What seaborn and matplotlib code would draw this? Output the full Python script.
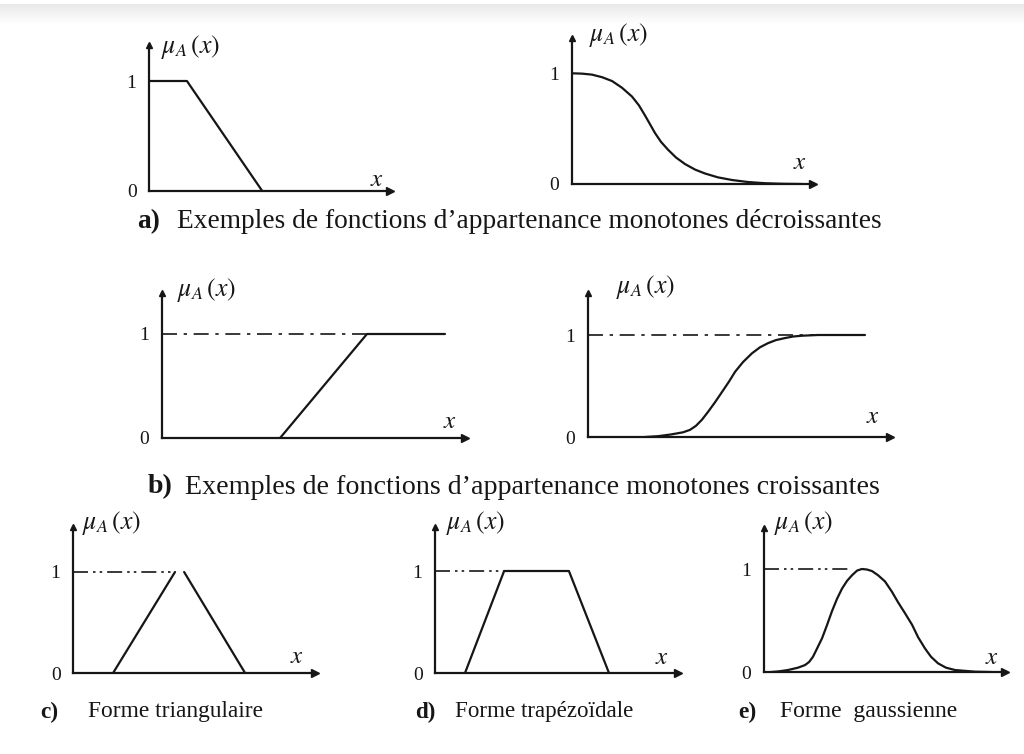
import numpy as np
import pandas as pd
import matplotlib
matplotlib.use("Agg")
import matplotlib.pyplot as plt
import seaborn as sns

sns.set_theme(style="white")
plt.rcParams["font.family"] = ["Liberation Serif", "DejaVu Serif"]
plt.rcParams["mathtext.fontset"] = "stix"

INK = "#161616"

# ---- membership functions (x in arbitrary units, mu in [0, 1]) ----
# a) decreasing: trapezoidal shoulder
a1_x = [0.0, 1.58, 4.71]
a1_mu = [1.0, 1.0, 0.0]

# a) decreasing: smooth (Z-shaped) curve
a2_x = [0.0, 0.42, 0.83, 1.25, 1.67, 2.08, 2.5, 2.79, 3.04, 3.25, 3.46, 3.71,
        4.0, 4.33, 4.71, 5.13, 5.54, 6.08, 6.67, 7.33, 8.04, 8.75, 9.58]
a2_mu = [1.0, 0.997, 0.988, 0.965, 0.93, 0.87, 0.79, 0.71, 0.62, 0.54, 0.46, 0.38,
         0.31, 0.24, 0.18, 0.13, 0.095, 0.06, 0.036, 0.018, 0.007, 0.002, 0.0]

# b) increasing: linear ramp then saturation
b1_x = [4.92, 8.54, 11.79]
b1_mu = [0.0, 1.0, 1.0]

# b) increasing: smooth (S-shaped) curve
b2_x = [2.38, 2.92, 3.46, 3.96, 4.25, 4.5, 4.75, 5.0, 5.29, 5.58, 5.88, 6.13,
        6.46, 6.83, 7.17, 7.5, 7.83, 8.21, 8.54, 8.92, 9.58, 11.54]
b2_mu = [0.0, 0.008, 0.025, 0.046, 0.07, 0.11, 0.17, 0.246, 0.34, 0.44, 0.545, 0.64,
         0.735, 0.82, 0.88, 0.92, 0.95, 0.97, 0.985, 0.993, 1.0, 1.0]

# c) triangular (two sides)
c_x = [1.67, 4.25, 4.63, 7.17]
c_mu = [0.0, 1.0, 1.0, 0.0]
c_side = ["left", "left", "right", "right"]

# d) trapezoidal
d_x = [1.25, 2.88, 5.58, 7.25]
d_mu = [0.0, 1.0, 1.0, 0.0]

# e) gaussian-like bell
e_x = [0.17, 0.58, 1.0, 1.42, 1.71, 1.88, 2.04, 2.21, 2.42, 2.63, 2.83, 3.04,
       3.25, 3.46, 3.67, 3.88, 4.08, 4.29, 4.5, 4.75, 5.04, 5.33, 5.58, 5.88,
       6.17, 6.42, 6.71, 6.96, 7.25, 7.58, 7.96, 8.79, 9.92]
e_mu = [0.0, 0.008, 0.022, 0.045, 0.07, 0.10, 0.15, 0.23, 0.33, 0.46, 0.59, 0.71,
        0.81, 0.885, 0.94, 0.985, 1.0, 0.995, 0.98, 0.94, 0.88, 0.78, 0.68, 0.57,
        0.46, 0.34, 0.23, 0.15, 0.087, 0.045, 0.022, 0.006, 0.0]

# extent of the dash-dot guide at mu = 1 (None = no guide)
guide_end = {"a1": None, "a2": None, "b1": 8.54, "b2": 9.4,
             "c": 4.25, "d": 2.88, "e": 3.6}
guide_style = {"b1": (9, 4, 2, 4), "b2": (9, 4, 2, 4),
               "c": (9, 3, 1.5, 2.5, 1.5, 3), "d": (9, 3, 1.5, 2.5, 1.5, 3),
               "e": (9, 3, 1.5, 2.5, 1.5, 3)}

captions = [
    ("a)", "Exemples de fonctions d\u2019appartenance monotones d\u00e9croissantes",
     137, 177, 222, 19.7),
    ("b)", "Exemples de fonctions d\u2019appartenance monotones croissantes",
     148, 185, 487, 20.2),
    ("c)", "Forme triangulaire", 40, 88, 712, 16.8),
    ("d)", "Forme trap\u00e9zo\u00efdale", 415, 455, 712, 16.6),
    ("e)", "Forme  gaussienne", 738, 780, 712, 17.0),
]

# ---- page layout in pixels: origin x, origin y, arrow end x, arrow top y, level-1 y,
#      x-label offset (from arrow end, above axis), mu-label offset (right of axis, vs top)
W, H = 1024, 754
layout = {
    "a1": dict(x0=149, y0=190.7, xe=390, yt=45, y1=81, xl=(13, 11), ml=(12, -2)),
    "a2": dict(x0=572, y0=184, xe=813, yt=38, y1=73.3, xl=(13, 21), ml=(17, 3)),
    "b1": dict(x0=162, y0=438, xe=465, yt=293, y1=334, xl=(15, 16), ml=(15, 3)),
    "b2": dict(x0=588, y0=437, xe=890, yt=293, y1=335, xl=(17, 20), ml=(28, 6)),
    "c": dict(x0=73, y0=673, xe=315, yt=527, y1=572, xl=(18, 16), ml=(9, 4)),
    "d": dict(x0=435, y0=673, xe=678, yt=527, y1=571, xl=(16, 15), ml=(11, 4)),
    "e": dict(x0=764, y0=672.3, xe=1005, yt=528, y1=569, xl=(13, 14), ml=(10, 5)),
}
PX_PER_UNIT = 24.0

fig = plt.figure(figsize=(W / 100, H / 100), dpi=100)
fig.patch.set_facecolor("white")

# faint grey band along the top edge
band = fig.add_axes([0, 1 - 24 / H, 1, 20 / H], zorder=-5)
grad = np.linspace(0.91, 1.0, 64).reshape(-1, 1)
band.imshow(grad, cmap="gray", vmin=0, vmax=1, aspect="auto")
band.axis("off")


def make_panel(key):
    g = layout[key]
    wpx, hpx = g["xe"] - g["x0"], g["y0"] - g["yt"]
    ax = fig.add_axes([g["x0"] / W, 1 - g["y0"] / H, wpx / W, hpx / H])
    ax.set_facecolor("none")
    ax.set_xlim(0, wpx / PX_PER_UNIT)
    ax.set_ylim(0, hpx / (g["y0"] - g["y1"]))
    for s in ("top", "right"):
        ax.spines[s].set_visible(False)
    for s in ("left", "bottom"):
        ax.spines[s].set_color(INK)
        ax.spines[s].set_linewidth(1.6)
    ax.plot(1, 0, marker=">", ms=6, color=INK, transform=ax.transAxes, clip_on=False)
    ax.plot(0, 1, marker="^", ms=5, color=INK, transform=ax.transAxes, clip_on=False)
    ax.set_xticks([])
    ax.set_yticks([0, 1])
    ax.set_yticklabels(["0", "1"], fontsize=14, color=INK)
    ax.tick_params(axis="y", length=0, pad=9)
    ax.set_xlabel("")
    ax.set_ylabel("")
    xl = g["xl"]
    ax.text(1 - xl[0] / wpx, xl[1] / hpx, r"$x$", transform=ax.transAxes,
            ha="center", va="center", fontsize=18, color=INK)
    ml = g["ml"]
    ax.text(ml[0] / wpx, 1 + ml[1] / hpx, r"$\mu_A\,(x)$", transform=ax.transAxes,
            ha="left", va="center", fontsize=18.5, color=INK)
    if guide_end[key] is not None:
        ax.plot([0, guide_end[key]], [1, 1], color=INK, lw=1.2,
                dashes=guide_style[key], solid_capstyle="butt")
    return ax


curves = {
    "a1": pd.DataFrame({"x": a1_x, "mu": a1_mu, "part": 0}),
    "a2": pd.DataFrame({"x": a2_x, "mu": a2_mu, "part": 0}),
    "b1": pd.DataFrame({"x": b1_x, "mu": b1_mu, "part": 0}),
    "b2": pd.DataFrame({"x": b2_x, "mu": b2_mu, "part": 0}),
    "c": pd.DataFrame({"x": c_x, "mu": c_mu, "part": c_side}),
    "d": pd.DataFrame({"x": d_x, "mu": d_mu, "part": 0}),
    "e": pd.DataFrame({"x": e_x, "mu": e_mu, "part": 0}),
}

for key, df in curves.items():
    ax = make_panel(key)
    sns.lineplot(data=df, x="x", y="mu", units="part", estimator=None, sort=False,
                 color=INK, lw=1.6, ax=ax, legend=False)
    ax.set_xlabel("")
    ax.set_ylabel("")

for tag, text, xt, xs, yc, fs in captions:
    fig.text(xt / W, 1 - yc / H, tag, ha="left", va="center", fontsize=fs,
             fontweight="bold", color=INK)
    fig.text(xs / W, 1 - yc / H, text, ha="left", va="center", fontsize=fs, color=INK)

fig.savefig("out.png", dpi=100, facecolor="white")
